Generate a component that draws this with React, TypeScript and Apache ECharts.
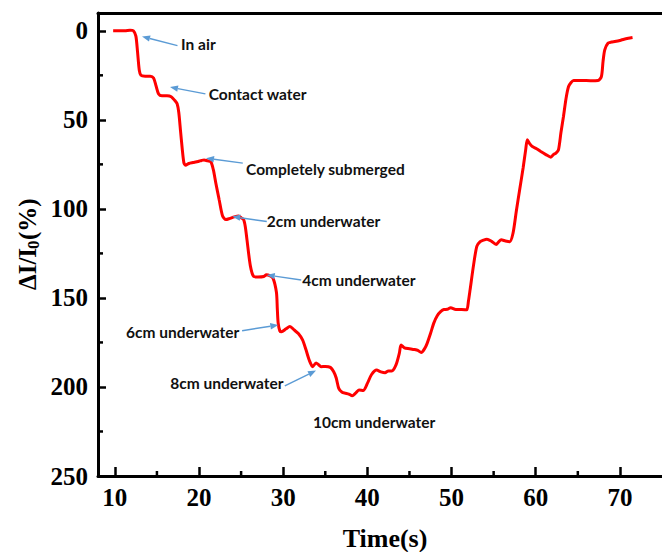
import React, { useEffect, useRef } from "react";
import * as echarts from "echarts";

// Time (s)
const times = [
  9.8, 10.5, 11.2, 11.8, 12.2, 12.5, 12.7, 12.9, 13.1, 13.6, 14.2, 14.6, 14.9, 15.2, 15.6, 16.2,
  16.7, 17.1, 17.4, 17.6, 17.8, 18.0, 18.2, 18.4, 18.8, 19.3, 19.9, 20.3, 20.6, 21.0, 21.4, 21.7,
  22.0, 22.4, 22.8, 23.2, 23.6, 24.2, 24.7, 25.0, 25.3, 25.5, 25.7, 26.1, 26.5, 27.0, 27.7, 28.0,
  28.4, 28.8, 29.2, 29.3, 29.4, 29.6, 29.8, 30.3, 30.8, 31.3, 31.8, 32.3, 32.7, 33.1, 33.5, 33.9,
  34.2, 34.5, 35.0, 35.6, 36.0, 36.3, 36.6, 37.0, 37.4, 37.8, 38.2, 38.6, 39.0, 39.5, 40.0, 40.5,
  41.1, 41.6, 42.1, 42.5, 42.9, 43.4, 43.8, 44.0, 44.4, 45.0, 45.6, 46.0, 46.4, 46.8, 47.1, 47.5,
  47.9, 48.3, 48.7, 49.1, 49.5, 49.9, 50.5, 51.2, 51.8, 52.0, 52.2, 52.6, 53.0, 53.4, 53.8, 54.2,
  54.7, 55.3, 55.6, 55.9, 56.4, 56.9, 57.3, 57.7, 58.1, 58.5, 58.8, 59.0, 59.3, 59.6, 60.1, 60.6,
  61.2, 61.8, 62.1, 62.4, 62.7, 63.0, 63.3, 63.6, 63.9, 64.2, 64.5, 65.5, 66.5, 67.4, 67.8, 68.0,
  68.2, 68.6, 69.0, 69.4, 70.0, 70.5, 71.0, 71.5,
];

// ΔI/I0 (%)
const values = [
  0, 0, 0, -0.3, 0, 3, 12, 22, 25, 25.5, 25.5, 26.5, 31, 35.5, 36.5, 36.5,
  37, 39, 41, 46, 56, 66, 74, 75.5, 74.5, 74, 73.4, 72.8, 72.5, 73, 73.5, 78,
  85.6, 95, 104, 106, 105.5, 104.5, 104, 105, 106, 110, 117.4, 132, 138, 138.3, 138, 137,
  137.5, 139, 147, 156, 164, 168.5, 169, 167.5, 166, 168, 170, 173.6, 179, 185, 188.6, 186.5,
  187.5, 188.6, 188.5, 189, 191.5, 195, 200.8, 203, 203.5, 204, 205, 203.5, 201.7, 202, 198, 193,
  190.5, 191.5, 192, 191, 191, 187.6, 181, 176.4, 178, 178.5, 179, 179.5, 180.7, 178.5, 175.5, 170,
  164, 160, 157.7, 156.5, 156.4, 155.5, 156.5, 156.5, 156.7, 152, 145.5, 132, 121, 118.4, 117.5, 117,
  118, 120, 118.5, 117.4, 118, 118.4, 113.7, 101, 89, 77, 67, 61.2, 63.5, 65, 66.2, 67.8,
  69.5, 71, 69.5, 68.7, 66.9, 57, 48, 38, 31.3, 29, 27.9, 27.9, 28, 27.9, 25.7, 17,
  10.7, 6.9, 6.3, 6, 5.4, 4.7, 4.2, 3.8,
];

const xTickValues = [10, 20, 30, 40, 50, 60, 70];
const xMinorTickValues = [15, 25, 35, 45, 55, 65];
const yTickValues = [0, 50, 100, 150, 200, 250];
const yMinorTickValues = [25, 75, 125, 175, 225];

const annotationLabels = [
  "In air",
  "Contact water",
  "Completely submerged",
  "2cm underwater",
  "4cm underwater",
  "6cm underwater",
  "8cm underwater",
  "10cm underwater",
];
// label anchor (left, middle) in data coords [time, value]
const annotationAnchors = [
  [17.87, 7.6],
  [21.15, 35.4],
  [25.59, 77.5],
  [28.05, 107.0],
  [32.26, 139.9],
  [11.32, 169.4],
  [16.58, 197.8],
  [33.53, 219.7],
];
// arrow tail and head in data coords
const arrowTails = [
  [17.44, 8.3],
  [20.76, 35.4],
  [25.2, 74.3],
  [28.05, 107.1],
  [32.14, 139.9],
  [25.12, 168.4],
  [30.19, 199.4],
];
const arrowHeads = [
  [13.23, 3.2],
  [16.55, 31.6],
  [20.83, 71.5],
  [23.95, 104.3],
  [28.05, 137.1],
  [29.42, 165.2],
  [33.9, 190.8],
];

const SERIF = '"Liberation Serif", "Times New Roman", serif';
const SANS = 'Lato, "Open Sans", sans-serif';

export default function App() {
  const ref = useRef<HTMLDivElement>(null);

  useEffect(() => {
    document.body.style.margin = "0";
    if (!ref.current) return;
    const chart = echarts.init(ref.current, undefined, { renderer: "svg" });

    const X_MIN = 8;
    const X_MAX = 75;
    const Y_MIN = -10;
    const Y_MAX = 250;

    chart.setOption({
      animation: false,
      backgroundColor: "#ffffff",
      grid: { left: 98, right: -9, top: 13, bottom: 76, containLabel: false },
      xAxis: [
        {
          type: "value",
          min: X_MIN,
          max: X_MAX,
          position: "bottom",
          splitLine: { show: false },
          axisLine: { show: true, onZero: false, lineStyle: { color: "#000", width: 3 } },
          axisTick: { show: true, inside: true, length: 9, customValues: xTickValues, lineStyle: { color: "#000", width: 2.5 } },
          axisLabel: {
            customValues: xTickValues,
            fontFamily: SERIF,
            fontWeight: "bold",
            fontSize: 25,
            color: "#000",
            margin: 9,
          },
        },
        {
          type: "value",
          min: X_MIN,
          max: X_MAX,
          position: "top",
          splitLine: { show: false },
          axisLine: { show: true, onZero: false, lineStyle: { color: "#000", width: 3 } },
          axisTick: { show: false },
          axisLabel: { show: false },
        },
      ],
      yAxis: [
        {
          type: "value",
          min: Y_MIN,
          max: Y_MAX,
          inverse: true,
          position: "left",
          splitLine: { show: false },
          axisLine: { show: true, onZero: false, lineStyle: { color: "#000", width: 3 } },
          axisTick: { show: true, inside: true, length: 8, customValues: yTickValues, lineStyle: { color: "#000", width: 2.5 } },
          axisLabel: {
            customValues: yTickValues,
            fontFamily: SERIF,
            fontWeight: "bold",
            fontSize: 25,
            color: "#000",
            margin: 10,
          },
        },
      ],
      series: [
        {
          type: "line",
          xAxisIndex: 0,
          yAxisIndex: 0,
          data: times.map((t, i) => [t, values[i]]),
          showSymbol: false,
          smooth: 0.25,
          lineStyle: { color: "#ff0000", width: 3 },
        },
      ],
    });

    const toPx = (p: number[]) =>
      chart.convertToPixel({ xAxisIndex: 0, yAxisIndex: 0 }, p) as number[];

    const graphics: any[] = [];

    // minor ticks (inside)
    const origin = toPx([X_MIN, Y_MAX]);
    xMinorTickValues.forEach((v) => {
      const p = toPx([v, Y_MAX]);
      graphics.push({
        type: "line",
        shape: { x1: p[0], y1: origin[1], x2: p[0], y2: origin[1] - 5 },
        style: { stroke: "#000", lineWidth: 2.5 },
        z: 5,
      });
    });
    yMinorTickValues.forEach((v) => {
      const p = toPx([X_MIN, v]);
      graphics.push({
        type: "line",
        shape: { x1: origin[0], y1: p[1], x2: origin[0] + 5, y2: p[1] },
        style: { stroke: "#000", lineWidth: 2.5 },
        z: 5,
      });
    });

    const arrowColor = "#5b9bd5";
    arrowTails.forEach((tail, i) => {
      const a = toPx(tail);
      const b = toPx(arrowHeads[i]);
      const dx = b[0] - a[0];
      const dy = b[1] - a[1];
      const len = Math.sqrt(dx * dx + dy * dy);
      const ux = dx / len;
      const uy = dy / len;
      const hl = 8;
      const hw = 3.2;
      const base = [b[0] - ux * hl, b[1] - uy * hl];
      graphics.push({
        type: "line",
        shape: { x1: a[0], y1: a[1], x2: base[0], y2: base[1] },
        style: { stroke: arrowColor, lineWidth: 1.4 },
        z: 10,
      });
      graphics.push({
        type: "polygon",
        shape: {
          points: [
            [b[0], b[1]],
            [base[0] - uy * hw, base[1] + ux * hw],
            [base[0] + uy * hw, base[1] - ux * hw],
          ],
        },
        style: { fill: arrowColor },
        z: 10,
      });
    });
    annotationLabels.forEach((label, i) => {
      const p = toPx(annotationAnchors[i]);
      graphics.push({
        type: "text",
        x: p[0],
        y: p[1],
        style: {
          text: label,
          fontFamily: SANS,
          fontWeight: "bold",
          fontSize: 15.5,
          fill: "#111",
          textAlign: "left",
          textVerticalAlign: "middle",
        },
        z: 11,
      });
    });
    // axis titles
    graphics.push({
      type: "text",
      x: 385,
      y: 538,
      style: {
        text: "Time(s)",
        fontFamily: SERIF,
        fontWeight: "bold",
        fontSize: 26,
        fill: "#000",
        textAlign: "center",
        textVerticalAlign: "middle",
      },
    });
    graphics.push({
      type: "group",
      x: 27,
      y: 244,
      rotation: Math.PI / 2,
      children: [
        {
          type: "text",
          x: -46,
          y: 0,
          style: { text: "ΔI/I", fontFamily: SERIF, fontWeight: "bold", fontSize: 25, fill: "#000", textAlign: "left", textVerticalAlign: "middle" },
        },
        {
          type: "text",
          x: -5,
          y: 6,
          style: { text: "0", fontFamily: SERIF, fontWeight: "bold", fontSize: 17, fill: "#000", textAlign: "left", textVerticalAlign: "middle" },
        },
        {
          type: "text",
          x: 4,
          y: 0,
          style: { text: "(%)", fontFamily: SERIF, fontWeight: "bold", fontSize: 25, fill: "#000", textAlign: "left", textVerticalAlign: "middle" },
        },
      ],
    });

    chart.setOption({ graphic: graphics });

    return () => chart.dispose();
  }, []);

  return <div ref={ref} style={{ width: 662, height: 552 }} />;
}
